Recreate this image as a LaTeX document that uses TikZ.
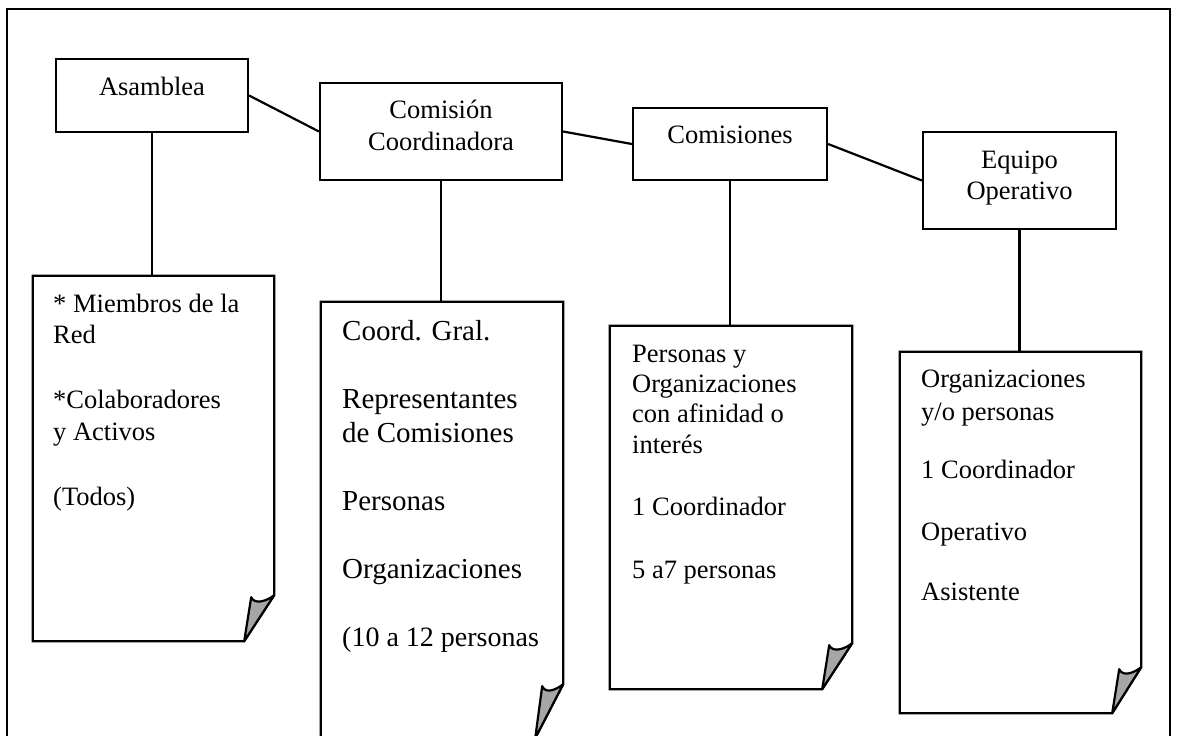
\documentclass[tikz,border=0pt]{standalone}
\usepackage{fontspec}
\setmainfont{Liberation Serif}
\usetikzlibrary{calc}
\tikzset{
  lw/.style={line width=2.2pt},
  box/.style={draw, lw, rectangle, inner sep=0pt},
  docarea/.style={rectangle, inner sep=0pt},
  docline/.style={lw, line join=miter},
  flap/.style={lw, fill=black!35, line join=round},
  conn/.style={lw},
  boxtxt/.style={inner sep=0pt, anchor=base, font=\fontsize{26.5}{30}\selectfont},
  doctxt/.style={inner sep=0pt, anchor=base west, font=\fontsize{26.5}{30}\selectfont},
  bigtxt/.style={inner sep=0pt, anchor=base west, font=\fontsize{29}{33}\selectfont},
}
\newcommand\mydoc[3]{%
  \coordinate (#1-R) at ($(#1.south east)+(0,-#3)$);
  \coordinate (#1-B) at ($(#1.south east)+(-#2,0)$);
  \coordinate (#1-F) at ($(#1-B)+(7,{-(#3-2)})$);
  \draw[docline] (#1-B) -- (#1.south west) -- (#1.north west) -- (#1.north east) -- (#1-R) -- cycle;
  \filldraw[flap] (#1-B) -- (#1-F) .. controls +(3,7) and +(-9,7) .. (#1-R) -- cycle;
}
\begin{document}
\begin{tikzpicture}[x=1pt,y=-1pt]
\useasboundingbox (0,0) rectangle (1178,736);
\clip (0,0) rectangle (1178,736);
\fill[white] (0,0) rectangle (1178,736);
% outer frame
\draw[lw] (7,745) -- (7,9) -- (1170,9) -- (1170,745);

% top boxes
\node[box, minimum width=192pt, minimum height=73pt] (asam) at (152,95.5) {};
\node[box, minimum width=242pt, minimum height=97pt] (coord) at (441,131.5) {};
\node[box, minimum width=194pt, minimum height=72pt] (comis) at (730,144) {};
\node[box, minimum width=193pt, minimum height=97pt] (equipo) at (1019.5,180.5) {};

\node[boxtxt] (asamt) at (152,95) {Asamblea};
\node[boxtxt] (coordt1) at (441,118) {Comisión};
\node[boxtxt] (coordt2) at (441,150) {Coordinadora};
\node[boxtxt] (comist) at (730,143) {Comisiones};
\node[boxtxt] (equipot1) at (1019.5,168) {Equipo};
\node[boxtxt] (equipot2) at (1019.5,199) {Operativo};

% document areas
\node[docarea, minimum width=241pt, minimum height=365pt] (doc1) at (153.5,458.5) {};
\node[docarea, minimum width=242pt, minimum height=436pt] (doc2) at (442,520) {};
\node[docarea, minimum width=242pt, minimum height=363pt] (doc3) at (731,507.5) {};
\node[docarea, minimum width=241pt, minimum height=361pt] (doc4) at (1020.5,532.5) {};

\mydoc{doc1}{30}{46}
\mydoc{doc2}{28}{54}
\mydoc{doc3}{30}{46}
\mydoc{doc4}{29}{46}

% connectors
\draw[conn] (asam.east) -- (coord.west);
\draw[conn] (coord.east) -- (comis.west);
\draw[conn] (comis.east) -- (equipo.west);
\draw[conn] (asam.south) -- (asam.south |- doc1.north);
\draw[conn] (coord.south) -- (coord.south |- doc2.north);
\draw[conn] (comis.south) -- (comis.south |- doc3.north);
\draw[conn] (equipo.south) -- (equipo.south |- doc4.north);

% doc 1 text
\node[doctxt] (t1a) at (53,312) {* Miembros de la};
\node[doctxt] (t1b) at (53,343) {Red};
\node[doctxt] (t1c) at (53,408) {*Colaboradores};
\node[doctxt] (t1d) at (53,440) {y Activos};
\node[doctxt] (t1e) at (53,505) {(Todos)};

% doc 2 text
\node[bigtxt] (t2a) at (342,340) {Coord. Gral.};
\node[bigtxt] (t2b) at (342,408) {Representantes};
\node[bigtxt] (t2c) at (342,442) {de Comisiones};
\node[bigtxt] (t2d) at (342,510) {Personas};
\node[bigtxt] (t2e) at (342,578) {Organizaciones};
\node[bigtxt, font=\fontsize{28}{32}\selectfont] (t2f) at (342,646) {(10 a 12 personas};

% doc 3 text
\node[doctxt] (t3a) at (632,362) {Personas y};
\node[doctxt] (t3b) at (632,392) {Organizaciones};
\node[doctxt] (t3c) at (632,422) {con afinidad o};
\node[doctxt] (t3d) at (632,453) {interés};
\node[doctxt] (t3e) at (632,515) {1 Coordinador};
\node[doctxt] (t3f) at (632,578) {5 a7 personas};

% doc 4 text
\node[doctxt] (t4a) at (921,387) {Organizaciones};
\node[doctxt] (t4b) at (921,420) {y/o personas};
\node[doctxt] (t4c) at (921,478) {1 Coordinador};
\node[doctxt] (t4d) at (921,540) {Operativo};
\node[doctxt] (t4e) at (921,600) {Asistente};
\end{tikzpicture}
\end{document}
